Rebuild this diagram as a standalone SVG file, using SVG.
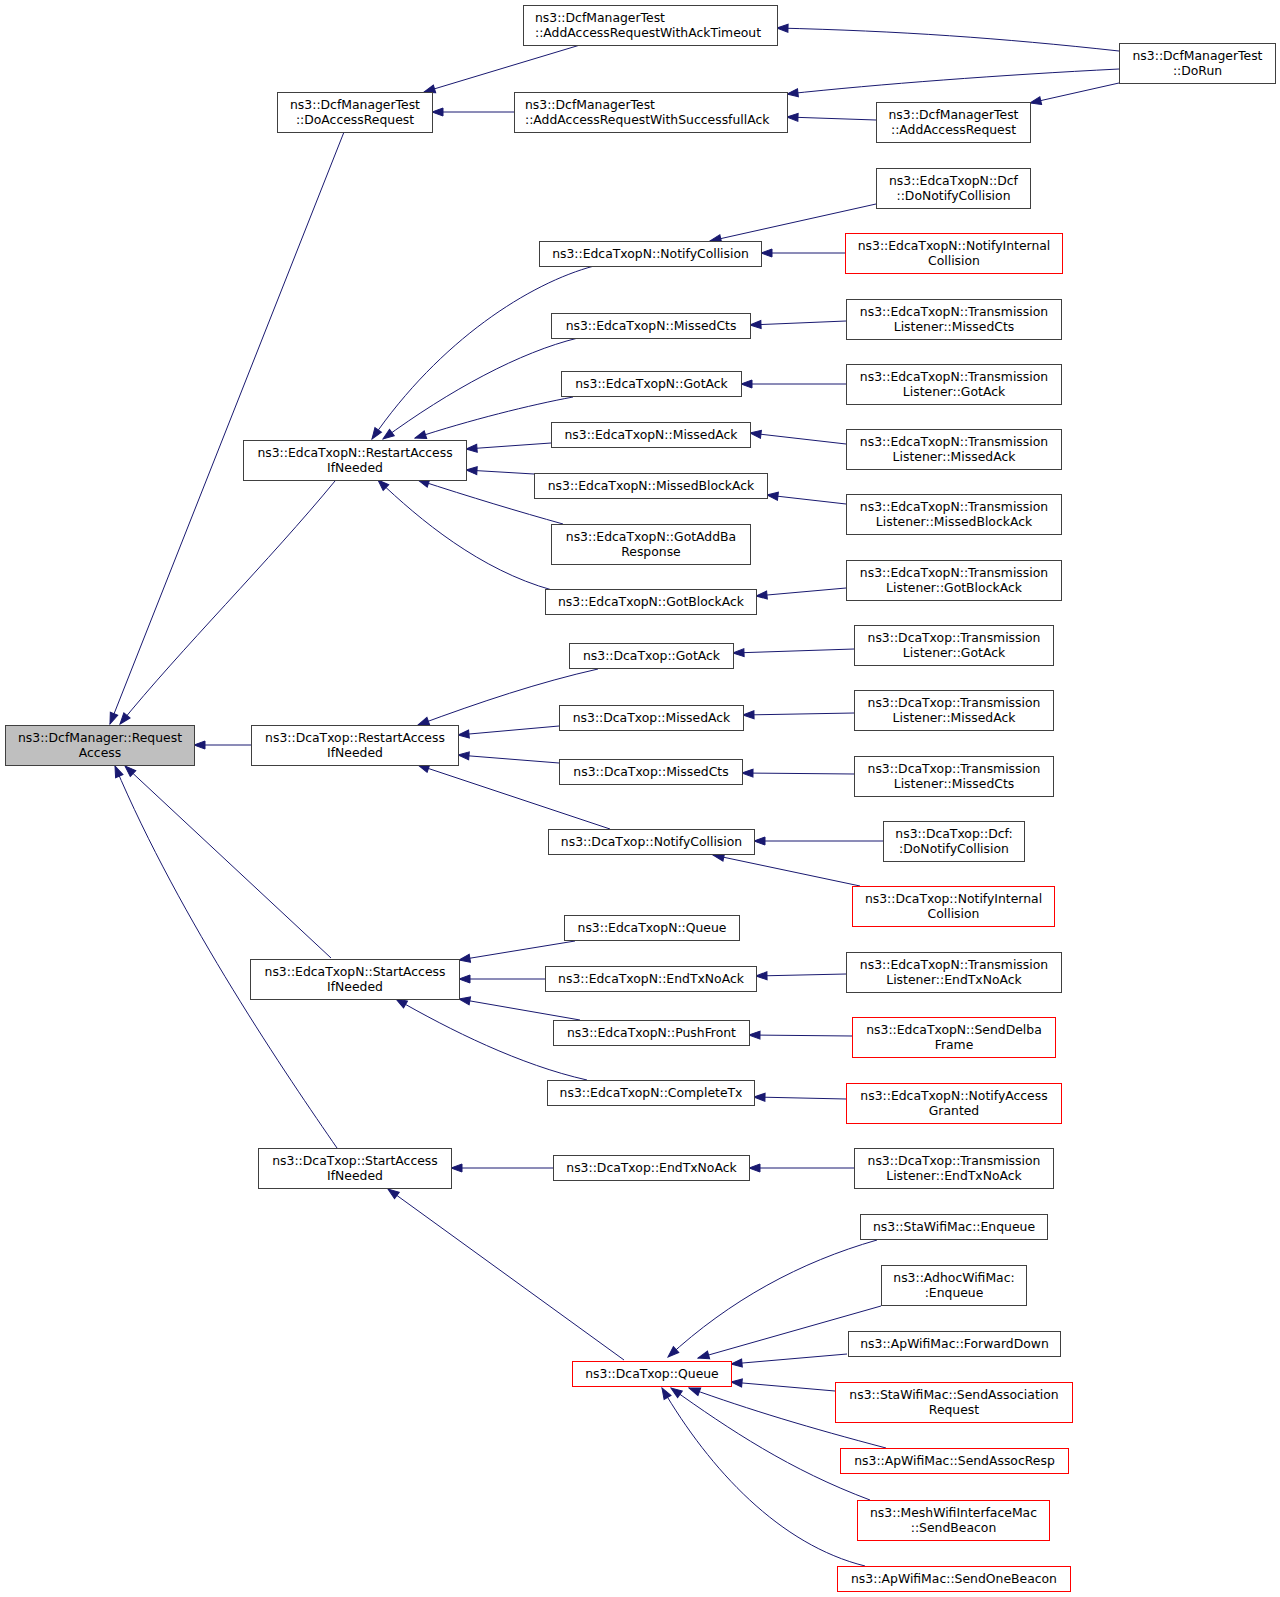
<svg xmlns="http://www.w3.org/2000/svg" width="1280" height="1597" viewBox="0 0 1280 1597">
<style>
.node rect{fill:#fff;stroke:#404040;stroke-width:1}
.node.red rect{stroke:#ff0000}
.node.cur rect{fill:#bfbfbf}
.node text{font-family:'DejaVu Sans','Liberation Sans',sans-serif;font-size:12.4px;fill:#000;text-anchor:middle}
.node text.l{text-anchor:start}
#edges path{fill:none;stroke:#191970;stroke-width:1;marker-end:url(#ah)}
</style>
<defs>
<marker id="ah" markerUnits="userSpaceOnUse" markerWidth="13" markerHeight="11" viewBox="0 0 13 11" refX="12" refY="5.5" orient="auto">
<path d="M1,1.5 L12,5.5 L1,9.5 z" fill="#191970" stroke="#191970" stroke-width="1"/>
</marker>
</defs>
<rect x="0" y="0" width="1280" height="1597" fill="#fff"/>
<g id="edges">
<path d="M344,132 L110,724"/>
<path d="M335,481 C270,560 180,650 120,724"/>
<path d="M251,745 L194,745"/>
<path d="M331,958 L125,766"/>
<path d="M337,1148 C290,1080 180,920 115,766"/>
<path d="M580,45 L424,92"/>
<path d="M514,112 L432,112"/>
<path d="M1119,51 C1000,38 900,31 777,28"/>
<path d="M1119,69 C1000,75 880,84 787,94"/>
<path d="M1119,83 L1030,103"/>
<path d="M876,120 L787,117"/>
<path d="M876,204 L710,241"/>
<path d="M845,253 L761,253"/>
<path d="M594,266 C530,283 440,340 372,439"/>
<path d="M578,338 C520,352 450,390 383,439"/>
<path d="M573,397 C530,405 470,420 415,438"/>
<path d="M551,443 L466,449"/>
<path d="M534,474 L466,470"/>
<path d="M563,524 C520,512 470,497 418,480"/>
<path d="M552,590 C480,570 420,520 378,480"/>
<path d="M846,321 L750,325"/>
<path d="M846,384 L741,384"/>
<path d="M846,444 L750,433"/>
<path d="M846,504 L767,495"/>
<path d="M846,588 L756,596"/>
<path d="M598,669 C540,682 480,702 418,725"/>
<path d="M559,726 L458,735"/>
<path d="M559,763 L458,755"/>
<path d="M610,829 L418,765"/>
<path d="M854,649 L733,653"/>
<path d="M854,713 L743,715"/>
<path d="M854,774 L742,773"/>
<path d="M883,841 L754,841"/>
<path d="M860,886 L713,855"/>
<path d="M575,941 L459,960"/>
<path d="M545,979 L459,979"/>
<path d="M580,1020 L459,999"/>
<path d="M587,1080 C520,1065 450,1030 396,999"/>
<path d="M846,974 L756,976"/>
<path d="M852,1036 L749,1035"/>
<path d="M846,1099 L754,1097"/>
<path d="M553,1168 L451,1168"/>
<path d="M854,1168 L749,1168"/>
<path d="M624,1360 L388,1189"/>
<path d="M877,1240 C800,1262 730,1300 668,1357"/>
<path d="M881,1306 L698,1358"/>
<path d="M847,1354 L731,1364"/>
<path d="M835,1391 L731,1382"/>
<path d="M886,1448 C810,1428 750,1410 689,1388"/>
<path d="M870,1500 C790,1470 730,1430 671,1388"/>
<path d="M865,1566 C780,1545 710,1470 662,1388"/>
</g>
<g id="n0" class="node cur"><rect x="5.5" y="725.5" width="189" height="40"/><text x="100" y="742">ns3::DcfManager::Request</text><text x="100" y="756.5">Access</text></g>
<g id="n1" class="node"><rect x="277.5" y="92.5" width="155" height="40"/><text x="355" y="109">ns3::DcfManagerTest</text><text x="355" y="123.5">::DoAccessRequest</text></g>
<g id="n2" class="node"><rect x="243.5" y="440.5" width="223" height="40"/><text x="355" y="457">ns3::EdcaTxopN::RestartAccess</text><text x="355" y="471.5">IfNeeded</text></g>
<g id="n3" class="node"><rect x="251.5" y="725.5" width="207" height="40"/><text x="355" y="742">ns3::DcaTxop::RestartAccess</text><text x="355" y="756.5">IfNeeded</text></g>
<g id="n4" class="node"><rect x="250.5" y="959.5" width="209" height="40"/><text x="355" y="976">ns3::EdcaTxopN::StartAccess</text><text x="355" y="990.5">IfNeeded</text></g>
<g id="n5" class="node"><rect x="258.5" y="1148.5" width="193" height="40"/><text x="355" y="1165">ns3::DcaTxop::StartAccess</text><text x="355" y="1179.5">IfNeeded</text></g>
<g id="n6" class="node"><rect x="523.5" y="5.5" width="254" height="40"/><text class="l" x="535" y="22">ns3::DcfManagerTest</text><text class="l" x="535" y="36.5">::AddAccessRequestWithAckTimeout</text></g>
<g id="n7" class="node"><rect x="514.5" y="92.5" width="273" height="40"/><text class="l" x="525" y="109">ns3::DcfManagerTest</text><text class="l" x="525" y="123.5">::AddAccessRequestWithSuccessfullAck</text></g>
<g id="n8" class="node"><rect x="539.5" y="241.5" width="222" height="25"/><text x="650.5" y="258">ns3::EdcaTxopN::NotifyCollision</text></g>
<g id="n9" class="node"><rect x="551.5" y="313.5" width="199" height="25"/><text x="651" y="330">ns3::EdcaTxopN::MissedCts</text></g>
<g id="n10" class="node"><rect x="561.5" y="371.5" width="180" height="25"/><text x="651.5" y="388">ns3::EdcaTxopN::GotAck</text></g>
<g id="n11" class="node"><rect x="551.5" y="422.5" width="199" height="25"/><text x="651" y="439">ns3::EdcaTxopN::MissedAck</text></g>
<g id="n12" class="node"><rect x="534.5" y="473.5" width="233" height="25"/><text x="651" y="490">ns3::EdcaTxopN::MissedBlockAck</text></g>
<g id="n13" class="node"><rect x="551.5" y="524.5" width="199" height="40"/><text x="651" y="541">ns3::EdcaTxopN::GotAddBa</text><text x="651" y="555.5">Response</text></g>
<g id="n14" class="node"><rect x="545.5" y="589.5" width="211" height="25"/><text x="651" y="606">ns3::EdcaTxopN::GotBlockAck</text></g>
<g id="n15" class="node"><rect x="569.5" y="643.5" width="164" height="25"/><text x="651.5" y="660">ns3::DcaTxop::GotAck</text></g>
<g id="n16" class="node"><rect x="559.5" y="705.5" width="184" height="25"/><text x="651.5" y="722">ns3::DcaTxop::MissedAck</text></g>
<g id="n17" class="node"><rect x="559.5" y="759.5" width="183" height="25"/><text x="651" y="776">ns3::DcaTxop::MissedCts</text></g>
<g id="n18" class="node"><rect x="548.5" y="829.5" width="206" height="25"/><text x="651.5" y="846">ns3::DcaTxop::NotifyCollision</text></g>
<g id="n19" class="node"><rect x="564.5" y="915.5" width="175" height="25"/><text x="652" y="932">ns3::EdcaTxopN::Queue</text></g>
<g id="n20" class="node"><rect x="545.5" y="966.5" width="211" height="25"/><text x="651" y="983">ns3::EdcaTxopN::EndTxNoAck</text></g>
<g id="n21" class="node"><rect x="553.5" y="1020.5" width="196" height="25"/><text x="651.5" y="1037">ns3::EdcaTxopN::PushFront</text></g>
<g id="n22" class="node"><rect x="547.5" y="1080.5" width="207" height="25"/><text x="651" y="1097">ns3::EdcaTxopN::CompleteTx</text></g>
<g id="n23" class="node"><rect x="553.5" y="1155.5" width="196" height="25"/><text x="651.5" y="1172">ns3::DcaTxop::EndTxNoAck</text></g>
<g id="n24" class="node red"><rect x="572.5" y="1361.5" width="159" height="25"/><text x="652" y="1378">ns3::DcaTxop::Queue</text></g>
<g id="n25" class="node"><rect x="1119.5" y="43.5" width="156" height="40"/><text x="1197.5" y="60">ns3::DcfManagerTest</text><text x="1197.5" y="74.5">::DoRun</text></g>
<g id="n26" class="node"><rect x="876.5" y="102.5" width="154" height="40"/><text x="953.5" y="119">ns3::DcfManagerTest</text><text x="953.5" y="133.5">::AddAccessRequest</text></g>
<g id="n27" class="node"><rect x="876.5" y="168.5" width="154" height="40"/><text x="953.5" y="185">ns3::EdcaTxopN::Dcf</text><text x="953.5" y="199.5">::DoNotifyCollision</text></g>
<g id="n28" class="node red"><rect x="845.5" y="233.5" width="217" height="40"/><text x="954" y="250">ns3::EdcaTxopN::NotifyInternal</text><text x="954" y="264.5">Collision</text></g>
<g id="n29" class="node"><rect x="846.5" y="299.5" width="215" height="40"/><text x="954" y="316">ns3::EdcaTxopN::Transmission</text><text x="954" y="330.5">Listener::MissedCts</text></g>
<g id="n30" class="node"><rect x="846.5" y="364.5" width="215" height="40"/><text x="954" y="381">ns3::EdcaTxopN::Transmission</text><text x="954" y="395.5">Listener::GotAck</text></g>
<g id="n31" class="node"><rect x="846.5" y="429.5" width="215" height="40"/><text x="954" y="446">ns3::EdcaTxopN::Transmission</text><text x="954" y="460.5">Listener::MissedAck</text></g>
<g id="n32" class="node"><rect x="846.5" y="494.5" width="215" height="40"/><text x="954" y="511">ns3::EdcaTxopN::Transmission</text><text x="954" y="525.5">Listener::MissedBlockAck</text></g>
<g id="n33" class="node"><rect x="846.5" y="560.5" width="215" height="40"/><text x="954" y="577">ns3::EdcaTxopN::Transmission</text><text x="954" y="591.5">Listener::GotBlockAck</text></g>
<g id="n34" class="node"><rect x="854.5" y="625.5" width="199" height="40"/><text x="954" y="642">ns3::DcaTxop::Transmission</text><text x="954" y="656.5">Listener::GotAck</text></g>
<g id="n35" class="node"><rect x="854.5" y="690.5" width="199" height="40"/><text x="954" y="707">ns3::DcaTxop::Transmission</text><text x="954" y="721.5">Listener::MissedAck</text></g>
<g id="n36" class="node"><rect x="854.5" y="756.5" width="199" height="40"/><text x="954" y="773">ns3::DcaTxop::Transmission</text><text x="954" y="787.5">Listener::MissedCts</text></g>
<g id="n37" class="node"><rect x="883.5" y="821.5" width="141" height="40"/><text x="954" y="838">ns3::DcaTxop::Dcf:</text><text x="954" y="852.5">:DoNotifyCollision</text></g>
<g id="n38" class="node red"><rect x="852.5" y="886.5" width="202" height="40"/><text x="953.5" y="903">ns3::DcaTxop::NotifyInternal</text><text x="953.5" y="917.5">Collision</text></g>
<g id="n39" class="node"><rect x="846.5" y="952.5" width="215" height="40"/><text x="954" y="969">ns3::EdcaTxopN::Transmission</text><text x="954" y="983.5">Listener::EndTxNoAck</text></g>
<g id="n40" class="node red"><rect x="852.5" y="1017.5" width="203" height="40"/><text x="954" y="1034">ns3::EdcaTxopN::SendDelba</text><text x="954" y="1048.5">Frame</text></g>
<g id="n41" class="node red"><rect x="846.5" y="1083.5" width="215" height="40"/><text x="954" y="1100">ns3::EdcaTxopN::NotifyAccess</text><text x="954" y="1114.5">Granted</text></g>
<g id="n42" class="node"><rect x="854.5" y="1148.5" width="199" height="40"/><text x="954" y="1165">ns3::DcaTxop::Transmission</text><text x="954" y="1179.5">Listener::EndTxNoAck</text></g>
<g id="n43" class="node"><rect x="860.5" y="1214.5" width="187" height="25"/><text x="954" y="1231">ns3::StaWifiMac::Enqueue</text></g>
<g id="n44" class="node"><rect x="881.5" y="1265.5" width="145" height="40"/><text x="954" y="1282">ns3::AdhocWifiMac:</text><text x="954" y="1296.5">:Enqueue</text></g>
<g id="n45" class="node"><rect x="848.5" y="1331.5" width="212" height="25"/><text x="954.5" y="1348">ns3::ApWifiMac::ForwardDown</text></g>
<g id="n46" class="node red"><rect x="835.5" y="1382.5" width="237" height="40"/><text x="954" y="1399">ns3::StaWifiMac::SendAssociation</text><text x="954" y="1413.5">Request</text></g>
<g id="n47" class="node red"><rect x="840.5" y="1448.5" width="228" height="25"/><text x="954.5" y="1465">ns3::ApWifiMac::SendAssocResp</text></g>
<g id="n48" class="node red"><rect x="857.5" y="1500.5" width="192" height="40"/><text x="953.5" y="1517">ns3::MeshWifiInterfaceMac</text><text x="953.5" y="1531.5">::SendBeacon</text></g>
<g id="n49" class="node red"><rect x="837.5" y="1566.5" width="233" height="25"/><text x="954" y="1583">ns3::ApWifiMac::SendOneBeacon</text></g>
</svg>
